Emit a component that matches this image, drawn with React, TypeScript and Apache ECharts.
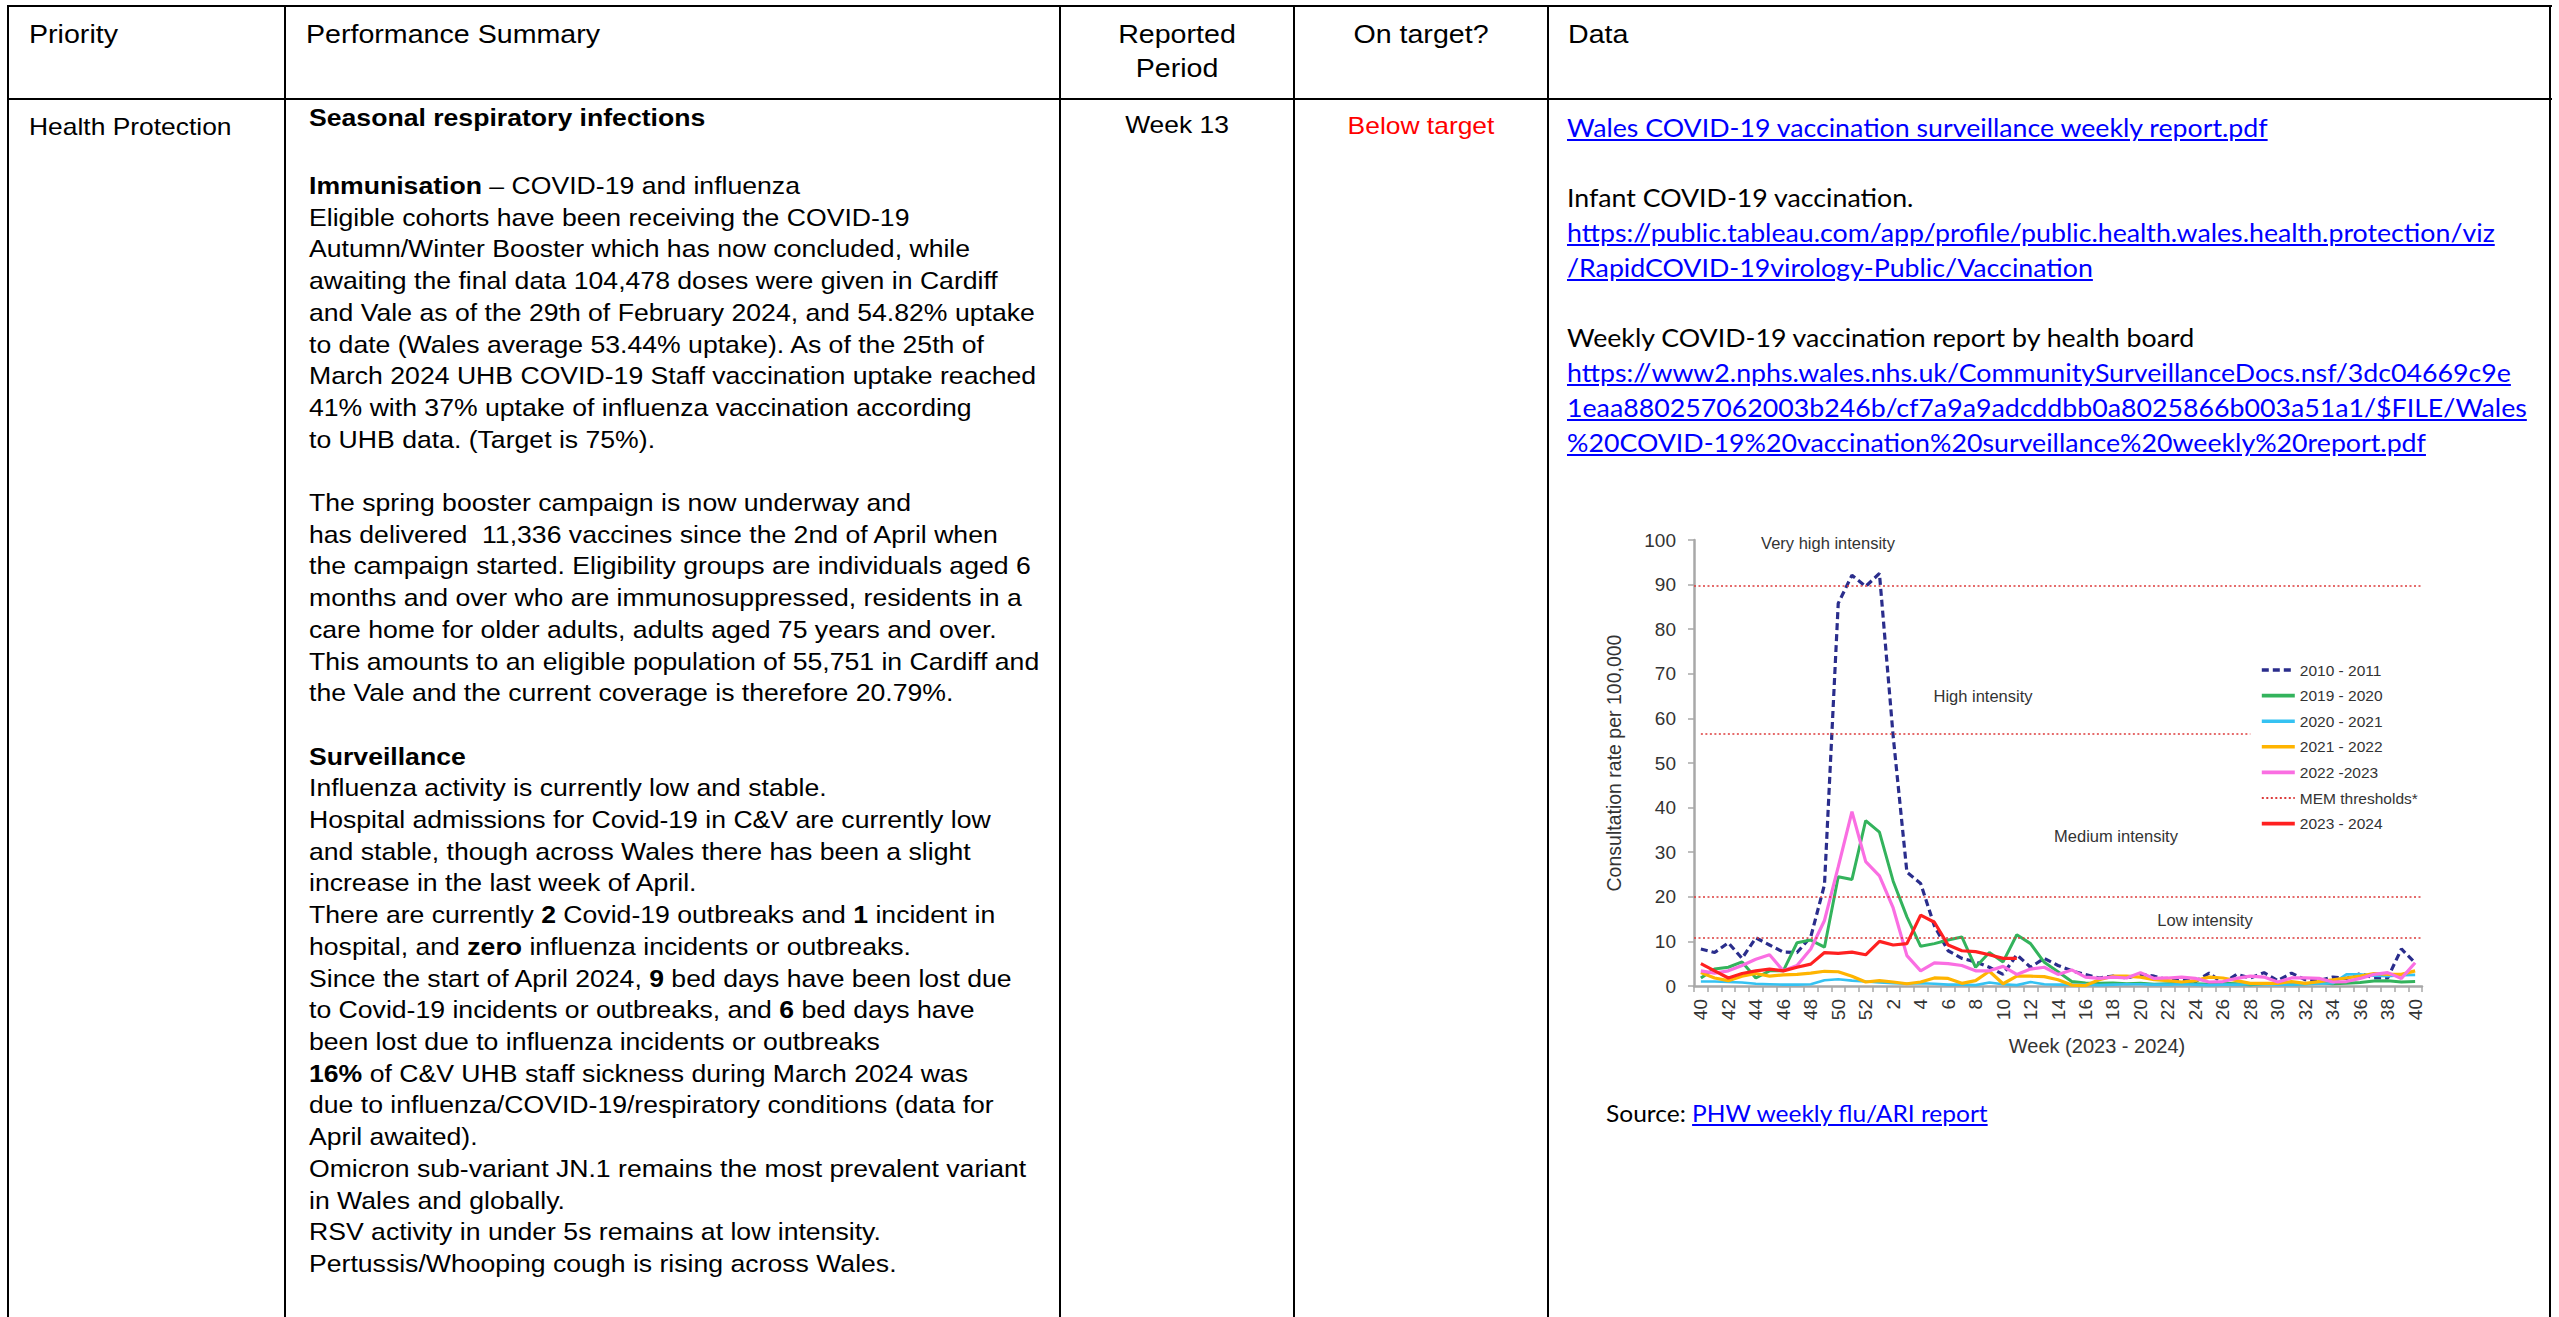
import React, { useEffect, useRef } from "react";
import * as echarts from "echarts";

// ---------- chart data ----------
const weeks: string[] = [
  "40", "41", "42", "43", "44", "45", "46", "47", "48", "49", "50", "51", "52",
  "1", "2", "3", "4", "5", "6", "7", "8", "9", "10", "11", "12", "13", "14", "15", "16", "17", "18", "19", "20",
  "21", "22", "23", "24", "25", "26", "27", "28", "29", "30", "31", "32", "33", "34", "35", "36", "37", "38", "39", "40",
];

const s2010_2011: number[] = [
  8.3, 7.5, 9.7, 6.2, 10.8, 9.2, 7.6, 7.5, 11.0, 22.7, 85.8, 92.1, 89.6, 92.5, 56.0, 25.5, 23.0, 13.5, 7.9, 6.2,
  5.4, 4.2, 2.6, 7.0, 4.2, 6.2, 4.6, 3.4, 2.6, 1.8, 2.2, 1.8, 2.6, 2.2, 1.4, 1.4, 1.0, 2.9, 0.6, 2.6,
  1.8, 3.0, 1.2, 2.9, 1.4, 1.2, 2.0, 1.7, 2.8, 1.8, 1.8, 8.3, 5.2,
];
const s2019_2020: number[] = [
  1.8, 3.8, 4.2, 5.4, 1.8, 3.4, 3.4, 9.7, 10.3, 8.7, 24.5, 23.9, 37.1, 34.5, 23.5, 15.5, 8.9, 9.5, 10.3, 11.0,
  4.2, 7.5, 5.4, 11.5, 9.5, 5.3, 3.2, 1.0, 0.7, 0.6, 0.7, 0.5, 0.6, 0.4, 0.5, 0.6, 0.5, 0.4, 0.6, 0.5,
  0.3, 0.5, 0.6, 0.4, 0.5, 0.7, 0.5, 0.6, 0.8, 1.1, 1.2, 0.9, 1.0,
];
const s2020_2021: number[] = [
  1.0, 1.0, 0.9, 0.8, 0.5, 0.4, 0.3, 0.3, 0.4, 1.3, 1.5, 1.2, 1.0, 0.8, 0.6, 0.5, 0.6, 0.5, 0.3, 0.3,
  0.2, 0.8, 0.4, 0.2, 0.9, 0.4, 0.3, 0.3, 0.3, 0.2, 0.3, 0.4, 0.4, 0.3, 0.3, 0.4, 0.3, 0.2, 0.3, 0.3,
  0.4, 0.4, 0.3, 0.3, 0.4, 0.5, 0.6, 2.6, 2.6, 2.3, 2.2, 2.4, 2.5,
];
const s2021_2022: number[] = [
  3.0, 1.8, 1.2, 2.2, 2.8, 2.2, 2.5, 2.6, 2.9, 3.3, 3.2, 2.2, 0.9, 1.2, 0.9, 0.5, 0.9, 1.8, 1.7, 0.6,
  1.2, 3.3, 0.5, 2.2, 2.2, 2.1, 1.4, 0.2, 0.1, 1.4, 2.2, 2.2, 2.0, 1.4, 1.2, 0.9, 1.2, 2.0, 1.8, 1.2,
  0.6, 0.6, 0.6, 1.0, 0.6, 1.0, 1.4, 1.8, 2.2, 2.8, 2.6, 2.6, 3.4,
];
const s2022_2023: number[] = [
  3.4, 2.9, 3.4, 4.6, 6.0, 7.0, 3.4, 4.6, 8.3, 14.7, 26.7, 39.1, 27.9, 24.7, 17.5, 6.8, 3.4, 5.2, 5.0, 4.6,
  3.4, 3.4, 4.4, 2.6, 3.8, 4.2, 2.6, 3.6, 2.0, 1.7, 2.0, 1.8, 3.0, 1.7, 1.8, 2.0, 1.7, 0.9, 1.0, 1.7,
  2.2, 2.0, 0.9, 1.8, 1.8, 1.7, 0.9, 1.0, 1.7, 2.6, 3.0, 1.7, 5.2,
];
const s2023_2024: number[] = [
  5.0, 3.4, 1.8, 2.8, 3.4, 3.8, 3.4, 4.2, 4.9, 7.5, 7.3, 7.6, 7.0, 10.0, 9.2, 9.5, 15.9, 14.3, 9.2, 7.9,
  7.7, 7.0, 6.2, 6.2,
];
const memThresholds: number[] = [89.7, 56.6, 20.0, 10.8];
const memShortEndIndex = 40; // the 56.6 threshold stops before the legend

const legendOrder: string[] = [
  "2010 - 2011", "2019 - 2020", "2020 - 2021", "2021 - 2022", "2022 -2023", "MEM thresholds*", "2023 - 2024",
];
const intensityLabels: { text: string; x: number; y: number }[] = [
  { text: "Very high intensity", x: 268, y: 43 },
  { text: "High intensity", x: 423, y: 196 },
  { text: "Medium intensity", x: 556, y: 336 },
  { text: "Low intensity", x: 645, y: 420 },
];

// ---------- table text ----------
const summaryLines: string[] = [
  "**Immunisation** – COVID-19 and influenza",
  "Eligible cohorts have been receiving the COVID-19",
  "Autumn/Winter Booster which has now concluded, while",
  "awaiting the final data 104,478 doses were given in Cardiff",
  "and Vale as of the 29th of February 2024, and 54.82% uptake",
  "to date (Wales average 53.44% uptake). As of the 25th of",
  "March 2024 UHB COVID-19 Staff vaccination uptake reached",
  "41% with 37% uptake of influenza vaccination according",
  "to UHB data. (Target is 75%).",
  "",
  "The spring booster campaign is now underway and",
  "has delivered  11,336 vaccines since the 2nd of April when",
  "the campaign started. Eligibility groups are individuals aged 6",
  "months and over who are immunosuppressed, residents in a",
  "care home for older adults, adults aged 75 years and over.",
  "This amounts to an eligible population of 55,751 in Cardiff and",
  "the Vale and the current coverage is therefore 20.79%.",
  "",
  "**Surveillance**",
  "Influenza activity is currently low and stable.",
  "Hospital admissions for Covid-19 in C&V are currently low",
  "and stable, though across Wales there has been a slight",
  "increase in the last week of April.",
  "There are currently **2** Covid-19 outbreaks and **1** incident in",
  "hospital, and **zero** influenza incidents or outbreaks.",
  "Since the start of April 2024, **9** bed days have been lost due",
  "to Covid-19 incidents or outbreaks, and **6** bed days have",
  "been lost due to influenza incidents or outbreaks",
  "**16%** of C&V UHB staff sickness during March 2024 was",
  "due to influenza/COVID-19/respiratory conditions (data for",
  "April awaited).",
  "Omicron sub-variant JN.1 remains the most prevalent variant",
  "in Wales and globally.",
  "RSV activity in under 5s remains at low intensity.",
  "Pertussis/Whooping cough is rising across Wales.",
];

const dataLines: { text: string; link: boolean }[] = [
  { text: "Wales COVID-19 vaccination surveillance weekly report.pdf", link: true },
  { text: "", link: false },
  { text: "Infant COVID-19 vaccination.", link: false },
  { text: "https://public.tableau.com/app/profile/public.health.wales.health.protection/viz", link: true },
  { text: "/RapidCOVID-19virology-Public/Vaccination", link: true },
  { text: "", link: false },
  { text: "Weekly COVID-19 vaccination report by health board", link: false },
  { text: "https://www2.nphs.wales.nhs.uk/CommunitySurveillanceDocs.nsf/3dc04669c9e", link: true },
  { text: "1eaa880257062003b246b/cf7a9a9adcddbb0a8025866b003a51a1/$FILE/Wales", link: true },
  { text: "%20COVID-19%20vaccination%20surveillance%20weekly%20report.pdf", link: true },
];

const ARIAL = '"Liberation Sans", Arial, sans-serif';
const CALIBRI = 'Lato, Carlito, "Liberation Sans", sans-serif';
const S = 1.1; // horizontal stretch of the reference page
const X = (v: number) => v / S;

function rich(line: string) {
  if (line === "") return "\u00a0";
  return line.split("**").map((p, k) =>
    k % 2 === 1 ? <b key={k}>{p}</b> : <span key={k}>{p}</span>
  );
}

function Chart() {
  const ref = useRef<HTMLDivElement>(null);
  useEffect(() => {
    if (!ref.current) return;
    const chart = echarts.init(ref.current, null, { renderer: "svg" });
    const axisGray = "#a8a8a8";
    const txt = "#333333";
    const lineSeries = (name: string, data: number[], color: string, width: number, type: any = "solid") => ({
      name,
      type: "line",
      data,
      symbol: "none",
      showSymbol: false,
      itemStyle: { color },
      lineStyle: { color, width, type },
      emphasis: { disabled: true },
    });
    chart.setOption({
      animation: false,
      backgroundColor: "transparent",
      textStyle: { fontFamily: ARIAL },
      grid: { left: 134, right: 38, top: 40, bottom: 94, containLabel: false, outerBoundsMode: "none" },
      legend: {
        orient: "vertical",
        left: 700,
        top: 162,
        itemWidth: 33,
        itemHeight: 14,
        itemGap: 9.6,
        padding: 0,
        data: legendOrder.map((n) => ({
          name: n,
          lineStyle: { width: n === "MEM thresholds*" ? 2 : 3.6 },
        })),
        itemStyle: { opacity: 0, borderWidth: 0 },
        textStyle: { fontSize: 15.5, color: txt, fontFamily: ARIAL },
      },
      xAxis: {
        type: "category",
        data: weeks,
        boundaryGap: true,
        name: "Week (2023 - 2024)",
        nameLocation: "middle",
        nameGap: 50,
        nameTextStyle: { fontSize: 20, color: txt, fontFamily: ARIAL, padding: [0, 0, 0, 78] },
        axisLine: { show: true, lineStyle: { color: axisGray, width: 2.5 } },
        axisTick: { show: true, interval: 0, length: 6, lineStyle: { color: axisGray, width: 1.5 } },
        axisLabel: { interval: 1, rotate: 90, fontSize: 19, color: txt, margin: 13, fontFamily: ARIAL },
        splitLine: { show: false },
      },
      yAxis: {
        type: "value",
        min: 0,
        max: 100,
        interval: 10,
        name: "Consultation rate per 100,000",
        nameLocation: "middle",
        nameGap: 70,
        nameTextStyle: { fontSize: 19.5, color: txt, fontFamily: ARIAL },
        axisLine: { show: true, lineStyle: { color: axisGray, width: 2.5 } },
        axisTick: { show: true, length: 6, lineStyle: { color: axisGray, width: 1.5 } },
        axisLabel: { fontSize: 19, color: txt, margin: 18, fontFamily: ARIAL },
        splitLine: { show: false },
      },
      graphic: intensityLabels.map((l) => ({
        type: "text",
        x: l.x,
        y: l.y,
        silent: true,
        style: {
          text: l.text,
          fill: txt,
          fontSize: 16.5,
          fontFamily: ARIAL,
          textAlign: "center",
          textVerticalAlign: "middle",
          align: "center",
          verticalAlign: "middle",
        },
      })),
      series: [
        {
          name: "MEM thresholds*",
          type: "line",
          data: [],
          symbol: "none",
          itemStyle: { color: "#dd3b3b" },
          lineStyle: { color: "#dd3b3b", width: 1.6, type: [2, 2.5] },
          markLine: {
            silent: true,
            symbol: ["none", "none"],
            label: { show: false },
            lineStyle: { color: "#dd3b3b", width: 1.6, type: [2, 2.5] },
            data: memThresholds.map((v, k) =>
              k === 1 ? [{ coord: [0, v] }, { coord: [memShortEndIndex, v] }] : { yAxis: v }
            ),
          },
        },
        lineSeries("2010 - 2011", s2010_2011, "#2a2d8c", 3.2, [7, 4]),
        lineSeries("2019 - 2020", s2019_2020, "#33b35c", 3),
        lineSeries("2020 - 2021", s2020_2021, "#35c2f2", 2.6),
        lineSeries("2021 - 2022", s2021_2022, "#ffb400", 3.2),
        lineSeries("2022 -2023", s2022_2023, "#fa6ee2", 3.2),
        lineSeries("2023 - 2024", s2023_2024, "#ff2020", 3.2),
      ],
    });
    return () => chart.dispose();
  }, []);
  return <div ref={ref} style={{ position: "absolute", left: 1560, top: 500, width: 900, height: 580 }} />;
}

export default function App() {
  const colX = [8, 285, 1060, 1294, 1548, 2550];
  const bodyLH = 31.7;
  const dataLH = 35;
  return (
    <div style={{ position: "absolute", left: 0, top: 0, width: 2559, height: 1317, overflow: "hidden", background: "#fff" }}>
      {/* borders */}
      <div style={{ position: "absolute", left: 7, top: 5, width: 2545, height: 2, background: "#000" }} />
      <div style={{ position: "absolute", left: 7, top: 98, width: 2545, height: 2, background: "#000" }} />
      {colX.map((x, k) => (
        <div key={k} style={{ position: "absolute", left: x - 1, top: 5, width: 2, height: 1312, background: "#000" }} />
      ))}

      {/* text layer, stretched horizontally like the reference */}
      <div
        style={{
          position: "absolute",
          left: 0,
          top: 0,
          width: 2559 / S,
          height: 1317,
          transform: `scaleX(${S})`,
          transformOrigin: "0 0",
          color: "#000",
          fontFamily: ARIAL,
        }}
      >
        {/* header */}
        <div style={{ position: "absolute", left: X(29), top: 17.3, fontSize: 26, lineHeight: "34px", whiteSpace: "pre" }}>Priority</div>
        <div style={{ position: "absolute", left: X(306), top: 17.3, fontSize: 26, lineHeight: "34px", whiteSpace: "pre" }}>Performance Summary</div>
        <div style={{ position: "absolute", left: X(1060), width: X(1294) - X(1060), top: 17.3, fontSize: 26, lineHeight: "34px", textAlign: "center" }}>
          Reported<br />Period
        </div>
        <div style={{ position: "absolute", left: X(1294), width: X(1548) - X(1294), top: 17.3, fontSize: 26, lineHeight: "34px", textAlign: "center", whiteSpace: "pre" }}>
          On target?
        </div>
        <div style={{ position: "absolute", left: X(1568), top: 17.3, fontSize: 26, lineHeight: "34px", whiteSpace: "pre" }}>Data</div>

        {/* row */}
        <div style={{ position: "absolute", left: X(29), top: 110.8, fontSize: 24, lineHeight: bodyLH + "px", whiteSpace: "pre" }}>Health Protection</div>
        <div style={{ position: "absolute", left: X(1060), width: X(1294) - X(1060), top: 108.8, fontSize: 24, lineHeight: bodyLH + "px", textAlign: "center", whiteSpace: "pre" }}>
          Week 13
        </div>
        <div style={{ position: "absolute", left: X(1294), width: X(1548) - X(1294), top: 109.8, fontSize: 24, lineHeight: bodyLH + "px", textAlign: "center", whiteSpace: "pre", color: "#ff0000" }}>
          Below target
        </div>

        <div style={{ position: "absolute", left: X(309), top: 101.5, fontSize: 24.2, lineHeight: bodyLH + "px", whiteSpace: "pre", fontWeight: "bold" }}>
          Seasonal respiratory infections
        </div>
        <div style={{ position: "absolute", left: X(309), top: 170, fontSize: 24.2, lineHeight: bodyLH + "px", whiteSpace: "pre" }}>
          {summaryLines.map((l, k) => (
            <div key={k}>{rich(l)}</div>
          ))}
        </div>

        <div style={{ position: "absolute", left: X(1567), top: 110.4, fontSize: 24.3, lineHeight: dataLH + "px", whiteSpace: "pre", fontFamily: CALIBRI }}>
          {dataLines.map((l, k) => (
            <div key={k} style={l.link ? { color: "#0000ff", textDecoration: "underline" } : undefined}>
              {l.text === "" ? "\u00a0" : l.text}
            </div>
          ))}
        </div>

        <div style={{ position: "absolute", left: X(1606), top: 1095.6, fontSize: 22.3, lineHeight: dataLH + "px", whiteSpace: "pre", fontFamily: CALIBRI }}>
          Source: <span style={{ color: "#0000ff", textDecoration: "underline" }}>PHW weekly flu/ARI report</span>
        </div>
      </div>

      <Chart />
    </div>
  );
}
